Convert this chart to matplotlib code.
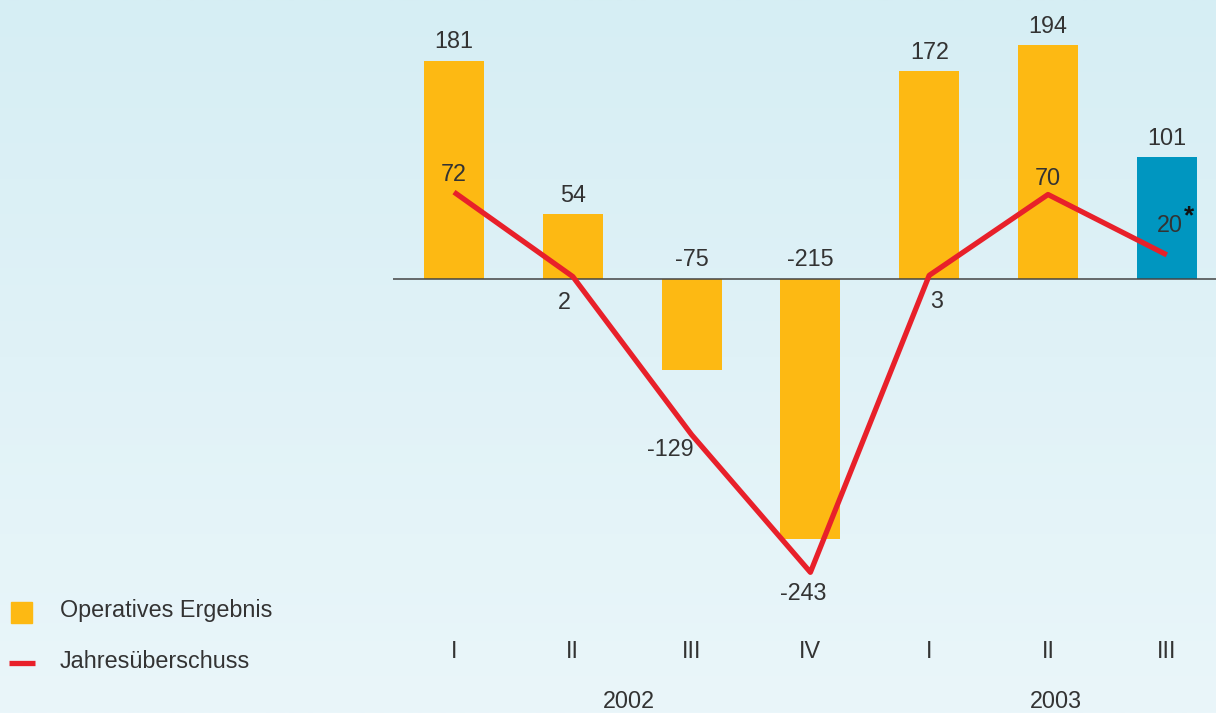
import matplotlib
matplotlib.use("Agg")
import matplotlib.pyplot as plt
import numpy as np
from matplotlib.colors import LinearSegmentedColormap

quarters = ["I", "II", "III", "IV", "I", "II", "III"]
years = ["2002", "2003"]
operatives = [181, 54, -75, -215, 172, 194, 101]
jahres = [72, 2, -129, -243, 3, 70, 20]
bar_colors = ["#FDB913"] * 6 + ["#0096C0"]

W, H = 1216, 713
fig = plt.figure(figsize=(W / 100, H / 100), dpi=100)

# background gradient
bg = fig.add_axes([0, 0, 1, 1], zorder=0)
cmap = LinearSegmentedColormap.from_list("bg", ["#EAF6FA", "#D6EEF4"])
grad = np.linspace(0, 1, 256).reshape(-1, 1)
bg.imshow(grad, aspect="auto", cmap=cmap, origin="lower", extent=[0, 1, 0, 1])
bg.set_axis_off()

plt.rcParams["font.family"] = ["Liberation Sans", "DejaVu Sans"]
txtc = "#333333"
fs = 16.8

left_px = 393
x0_px, dx_px = 454, 118.8
xmin = (left_px - x0_px) / dx_px
xmax = (W - x0_px) / dx_px
scale = 1.207
zero_px = 279
ymax = zero_px / scale
ymin = -(H - zero_px) / scale

ax = fig.add_axes([left_px / W, 0, 1 - left_px / W, 1], zorder=1)
ax.patch.set_alpha(0)
ax.set_xlim(xmin, xmax)
ax.set_ylim(ymin, ymax)
ax.set_axis_off()

x = np.arange(len(quarters))
ax.bar(x, operatives, width=60 / dx_px, color=bar_colors, zorder=2)
ax.axhline(0, color="#444444", lw=1.1, zorder=3)
ax.plot(x, jahres, color="#E8202A", lw=3.8, zorder=4, solid_capstyle="butt")

# bar labels
for xi, v in zip(x, operatives):
    ax.text(xi, (v + 6) if v > 0 else 7, f"{v}", ha="center", va="bottom",
            fontsize=fs, color=txtc, zorder=5)

# line labels (offsets in data units)
line_offsets = [(0, 5, "center", "bottom"), (-0.07, -12, "center", "top"),
                (-0.18, -3, "center", "top"), (-0.06, -8, "center", "top"),
                (0.06, -12, "center", "top"), (0, 4, "center", "bottom"),
                (0.03, 15, "center", "bottom")]
for xi, v, (ox, oy, ha, va) in zip(x, jahres, line_offsets):
    ax.text(xi + ox, v + oy, f"{v}", ha=ha, va=va, fontsize=fs, color=txtc, zorder=5)
ax.text(6 + 0.185, jahres[6] + 32, "*", ha="center", va="center", fontsize=fs + 2,
        color="#111111", zorder=5, fontweight="bold")

# category labels
for xi, q in zip(x, quarters):
    ax.text(xi, -(651 - zero_px) / scale, q, ha="center", va="center", fontsize=fs, color=txtc)
ax.text(1.47, -(701 - zero_px) / scale, years[0], ha="center", va="center", fontsize=fs, color=txtc)
ax.text(5.07, -(701 - zero_px) / scale, years[1], ha="center", va="center", fontsize=fs, color=txtc)

# legend
leg = fig.add_axes([0, 0, 1, 1], zorder=2)
leg.set_xlim(0, W)
leg.set_ylim(H, 0)
leg.set_axis_off()
leg.add_patch(plt.Rectangle((11, 602), 21, 21, color="#FDB913"))
leg.plot([9, 35], [663, 663], color="#E8202A", lw=3.8, solid_capstyle="butt")
leg.text(60, 611, "Operatives Ergebnis", ha="left", va="center", fontsize=fs, color=txtc)
leg.text(60, 662, "Jahresüberschuss", ha="left", va="center", fontsize=fs, color=txtc)

fig.savefig("out.png", dpi=100)
